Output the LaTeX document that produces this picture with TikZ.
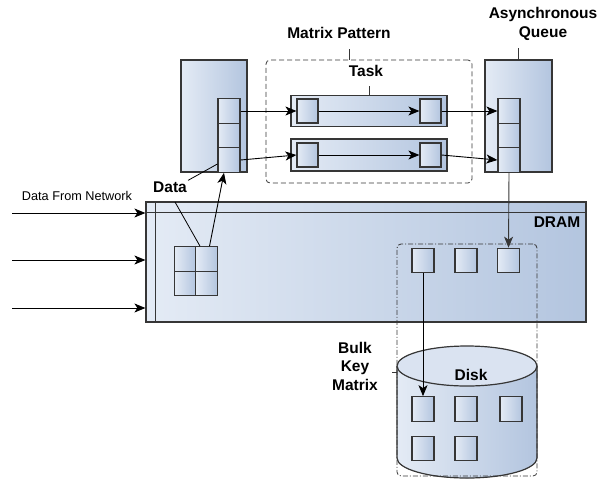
\documentclass[tikz,border=0pt]{standalone}
\usepackage{fontspec}
\setmainfont{Liberation Sans}
\usetikzlibrary{calc,arrows.meta}
\tikzset{>={Stealth[length=11pt,width=9pt,inset=3pt]}}
\definecolor{lite}{HTML}{E4EBF5}
\definecolor{deep}{HTML}{B3C5DF}
\definecolor{frame}{HTML}{363636}
\tikzset{
  box/.style={draw=frame,line width=1.2pt,left color=lite,right color=deep,inner sep=0pt},
  cell/.style={box,minimum width=22pt,minimum height=24.5pt},
  lbl/.style={font=\fontsize{15.5}{18.5}\selectfont\bfseries,align=center,inner sep=1pt},
  arr/.style={->,line width=0.9pt}
}

\begin{document}
\begin{tikzpicture}[x=1pt,y=-1pt]
\useasboundingbox (0,0) rectangle (599,480);
% DRAM
\node[box,minimum width=440pt,minimum height=120pt] (dram) at (366,262) {};
\draw[draw=frame,line width=0.8pt] ([xshift=10pt]dram.north west) -- ([xshift=10pt]dram.south west);
\draw[draw=frame,line width=0.8pt] ([yshift=-11pt]dram.north west) -- ([yshift=-11pt]dram.north east);
\node[lbl] (dramlbl) at (557,222) {DRAM};
\foreach \i/\y in {1/213,2/260,3/308} {
  \coordinate (in\i) at (12,\y);
  \draw[arr] (in\i) -- (in\i -| dram.west);
}
\node[font=\fontsize{12.7}{15}\selectfont,inner sep=1pt] (net) at (77,196) {Data From Network};
% data grid
\node[cell,minimum width=21.5pt] (g11) at (185,259) {};
\node[cell,minimum width=21.5pt] (g12) at (206.5,259) {};
\node[cell,minimum width=21.5pt] (g21) at (185,283.5) {};
\node[cell,minimum width=21.5pt] (g22) at (206.5,283.5) {};
% queues
\node[box,minimum width=66pt,minimum height=112pt] (qin) at (214,116) {};
\node[box,minimum width=67pt,minimum height=112pt] (qout) at (518.5,116) {};
\foreach \i/\y in {1/111,2/135.5,3/160} {
  \node[cell] (lin\i) at (229,\y) {};
  \node[cell] (qc\i) at (509,\y) {};
}
\node[lbl] (qlbl) at (543,24) {Asynchronous\\Queue};
\draw[draw=frame,line width=0.8pt] (qout.north) -- ++(0,-11);
% matrix pattern
\node[draw=frame,line width=0.8pt,dash pattern=on 5pt off 3pt,rounded corners=4pt,
  minimum width=206pt,minimum height=123pt] (mp) at (369,121.5) {};
\node[lbl] (mplbl) at (339,33) {Matrix Pattern};
\draw[draw=frame,line width=0.8pt] ([xshift=-20pt]mp.north) -- ++(0,-11);
\node[box,minimum width=156pt,minimum height=31pt] (task1) at (369,111) {};
\node[box,minimum width=156pt,minimum height=32pt] (task2) at (369,155) {};
\node[lbl] (tasklbl) at (366,71) {Task};
\draw[draw=frame,line width=0.8pt] (task1.north) -- ++(0,-9);
\node[cell,minimum width=21pt,minimum height=24pt] (a1) at (307.5,111) {};
\node[cell,minimum width=21pt,minimum height=24pt] (b1) at (430.5,111) {};
\node[cell,minimum width=21pt,minimum height=24pt] (a2) at (307.5,155) {};
\node[cell,minimum width=21pt,minimum height=24pt] (b2) at (430.5,155) {};
\draw[arr] (lin1.east) -- (a1.west);
\draw[arr] (a1.east) -- (b1.west);
\draw[arr] (b1.east) -- (qc1.west);
\draw[arr] (lin3.east) -- (a2.west);
\draw[arr] (a2.east) -- (b2.west);
\draw[arr] (b2.east) -- (qc3.west);
% data label
\node[lbl] (data) at (170,187) {Data};
\coordinate (dtail) at (175,202);
\draw[line width=0.8pt] (data.north east) -- ([yshift=-4pt]lin3.west);
\draw[line width=0.8pt] (dtail) -- ([xshift=-6.5pt]g12.north);
\draw[arr] ([xshift=3pt]g12.north) -- ([xshift=-5pt]lin3.south);
% bulk key matrix in DRAM
\foreach \i/\x in {1/423,2/466,3/508.5}
  \node[cell] (dsq\i) at (\x,260.5) {};
\draw[arr,draw=frame] (qc3.south) -- (dsq3.north);
% disk
\fill[left color=lite,right color=deep] (397,366) -- (397,458)
  arc[start angle=180,end angle=360,x radius=70pt,y radius=20pt] -- (537,366)
  arc[start angle=0,end angle=180,x radius=70pt,y radius=20pt] -- cycle;
\draw[draw=frame,line width=1.2pt] (397,366) -- (397,458)
  arc[start angle=180,end angle=360,x radius=70pt,y radius=20pt] -- (537,366);
\draw[draw=frame,line width=1.2pt,fill=lite!80!deep] (467,366) ellipse[x radius=70pt,y radius=20pt];
\node[lbl] (disklbl) at (471,375) {Disk};
\foreach \i/\x/\y in {1/423/409,2/466/409,3/511/409,4/423/448.5,5/466/448.5}
  \node[cell] (ksq\i) at (\x,\y) {};
\draw[arr] (dsq1.south) -- (ksq1.north);
% bulk frame
\node[draw=frame,line width=0.8pt,dash pattern=on 5pt off 2pt on 1pt off 2pt,rounded corners=4pt,
  minimum width=140pt,minimum height=232pt] (bulk) at (467,360) {};
\node[lbl] (bulklbl) at (355,366) {Bulk\\Key\\Matrix};
\draw[draw=frame,line width=0.8pt] ([yshift=-12pt]bulk.west) -- ++(-5,0);
\end{tikzpicture}
\end{document}
